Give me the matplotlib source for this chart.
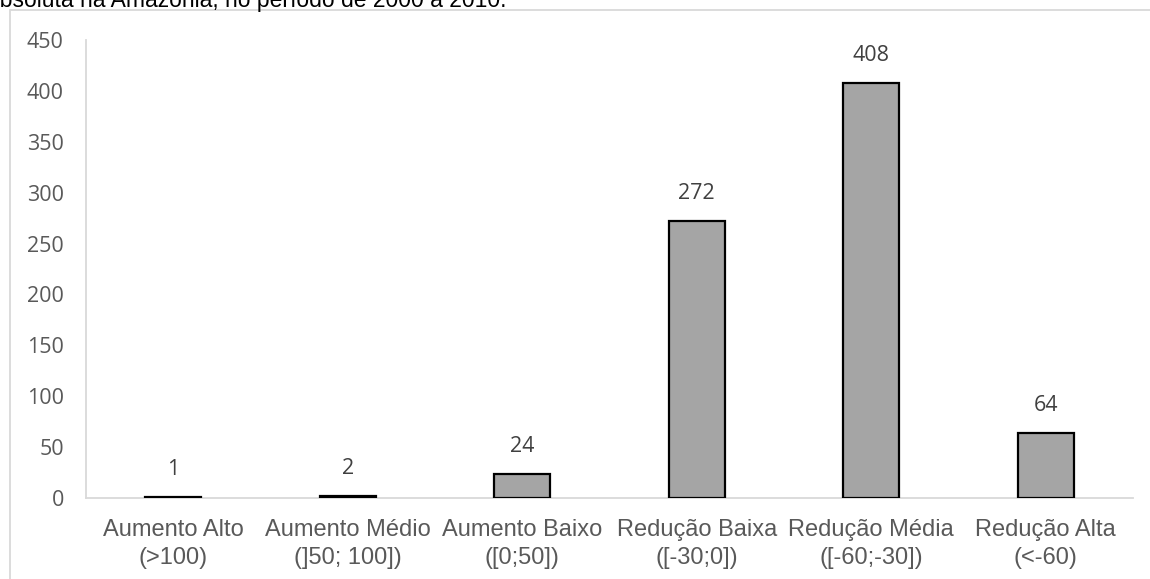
import matplotlib
matplotlib.use("Agg")
import matplotlib.pyplot as plt
from matplotlib.patches import Rectangle

categories = ["Aumento Alto\n(>100)", "Aumento Médio\n(]50; 100])", "Aumento Baixo\n([0;50])",
              "Redução Baixa\n([-30;0])", "Redução Média\n([-60;-30])", "Redução Alta\n(<-60)"]
values = [1, 2, 24, 272, 408, 64]
yticks = [0, 50, 100, 150, 200, 250, 300, 350, 400, 450]

W, H = 1150, 579
fig = plt.figure(figsize=(W/100, H/100), dpi=100)
ax = fig.add_axes([86/W, 1-498/H, (1133-86)/W, (498-40)/H])

x = list(range(len(values)))
ax.bar(x, values, width=0.32, color="#a5a5a5", edgecolor="black", linewidth=1.6, zorder=3)
ax.set_xlim(-0.5, len(values)-0.5)
ax.set_ylim(0, 450)
ax.set_yticks(yticks)
ax.set_yticklabels([str(t) for t in yticks], fontsize=15.5, color="#595959", family="Open Sans")
ax.set_xticks(x)
ax.set_xticklabels(categories, fontsize=17, color="#595959", family="Liberation Sans", linespacing=1.37)
ax.tick_params(axis="both", length=0)
ax.tick_params(axis="y", pad=16)
ax.tick_params(axis="x", pad=15)
for s in ["top", "right"]:
    ax.spines[s].set_visible(False)
for s in ["left", "bottom"]:
    ax.spines[s].set_color("#d9d9d9")
    ax.spines[s].set_linewidth(1.3)

for xi, v in zip(x, values):
    ax.annotate(str(v), (xi, v), xytext=(0, 12), textcoords="offset points",
                ha="center", va="bottom", fontsize=15.5, color="#404040", family="Open Sans")

# outer chart frame
fig.add_artist(Rectangle((10/W, -0.1), 1.2, 1-10/H+0.1, transform=fig.transFigure,
                         fill=False, edgecolor="#d9d9d9", linewidth=1.3))
# clipped caption line at the top
fig.text(-13/W, 1-7/H, "absoluta na Amazônia, no período de 2000 a 2010.", fontsize=16.5,
         family="Liberation Sans", color="black", ha="left", va="baseline")

fig.savefig("out.png", dpi=100)
